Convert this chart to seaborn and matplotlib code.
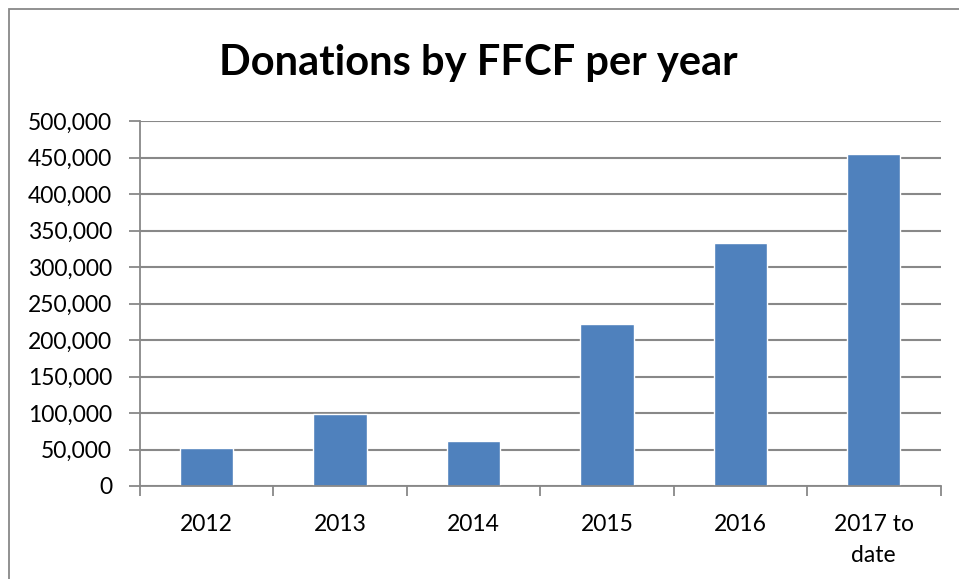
import matplotlib
matplotlib.use("Agg")
import matplotlib.pyplot as plt
import matplotlib.ticker as mticker
from matplotlib.patches import Rectangle
import pandas as pd
import seaborn as sns

years = ["2012", "2013", "2014", "2015", "2016", "2017 to\ndate"]
donations = [52600, 98000, 62200, 222600, 333200, 454800]

df = pd.DataFrame({"year": years, "donations": donations})

sns.set_style("white")
plt.rcParams["font.family"] = ["Lato", "DejaVu Sans"]
plt.rcParams["text.color"] = "black"
plt.rcParams["xtick.labelcolor"] = "black"
plt.rcParams["ytick.labelcolor"] = "black"

fig = plt.figure(figsize=(9.59, 5.79), dpi=100)
ax = fig.add_axes([140 / 959, 1 - 486 / 579, 800.5 / 959, 365 / 579])

sns.barplot(df, x="year", y="donations", color="#4F81BD", width=0.4,
            saturation=1, ax=ax)

ax.set_ylim(0, 500000)
ax.set_xlim(-0.5, len(years) - 0.5)
ax.yaxis.set_major_locator(mticker.MultipleLocator(50000))
ax.yaxis.set_major_formatter(mticker.FuncFormatter(lambda v, p: f"{v:,.0f}"))
ax.yaxis.grid(True, color="#888888", lw=1.5)
ax.set_axisbelow(True)

# excel style: ticks at category boundaries, labels centred
ax.set_xticks(range(len(years)))
ax.set_xticklabels(years, fontsize=16.5, linespacing=1.6)
ax.tick_params(axis="x", which="major", length=0, pad=20)
ax.set_xticks([i - 0.5 for i in range(len(years) + 1)], minor=True)
ax.tick_params(axis="x", which="minor", length=7, width=1.3, color="#888888",
               direction="out", bottom=True)
ax.tick_params(axis="y", length=8, width=1.3, color="#888888", left=True,
               direction="out", labelsize=16.5, pad=12)

for side in ["top", "right"]:
    ax.spines[side].set_visible(False)
for side in ["left", "bottom"]:
    ax.spines[side].set_color("#888888")
    ax.spines[side].set_linewidth(1.3)

ax.set_xlabel("")
ax.set_ylabel("")

fig.text(478 / 959, 1 - 63 / 579, "Donations by FFCF per year", fontsize=30,
         fontweight="bold", ha="center", va="center")

fig.patches.append(Rectangle((9 / 959, -0.1), 1.0, 1 - 9 / 579 + 0.1,
                             transform=fig.transFigure, fill=False,
                             edgecolor="#888888", lw=1.3))

fig.savefig("out.png", dpi=100)
